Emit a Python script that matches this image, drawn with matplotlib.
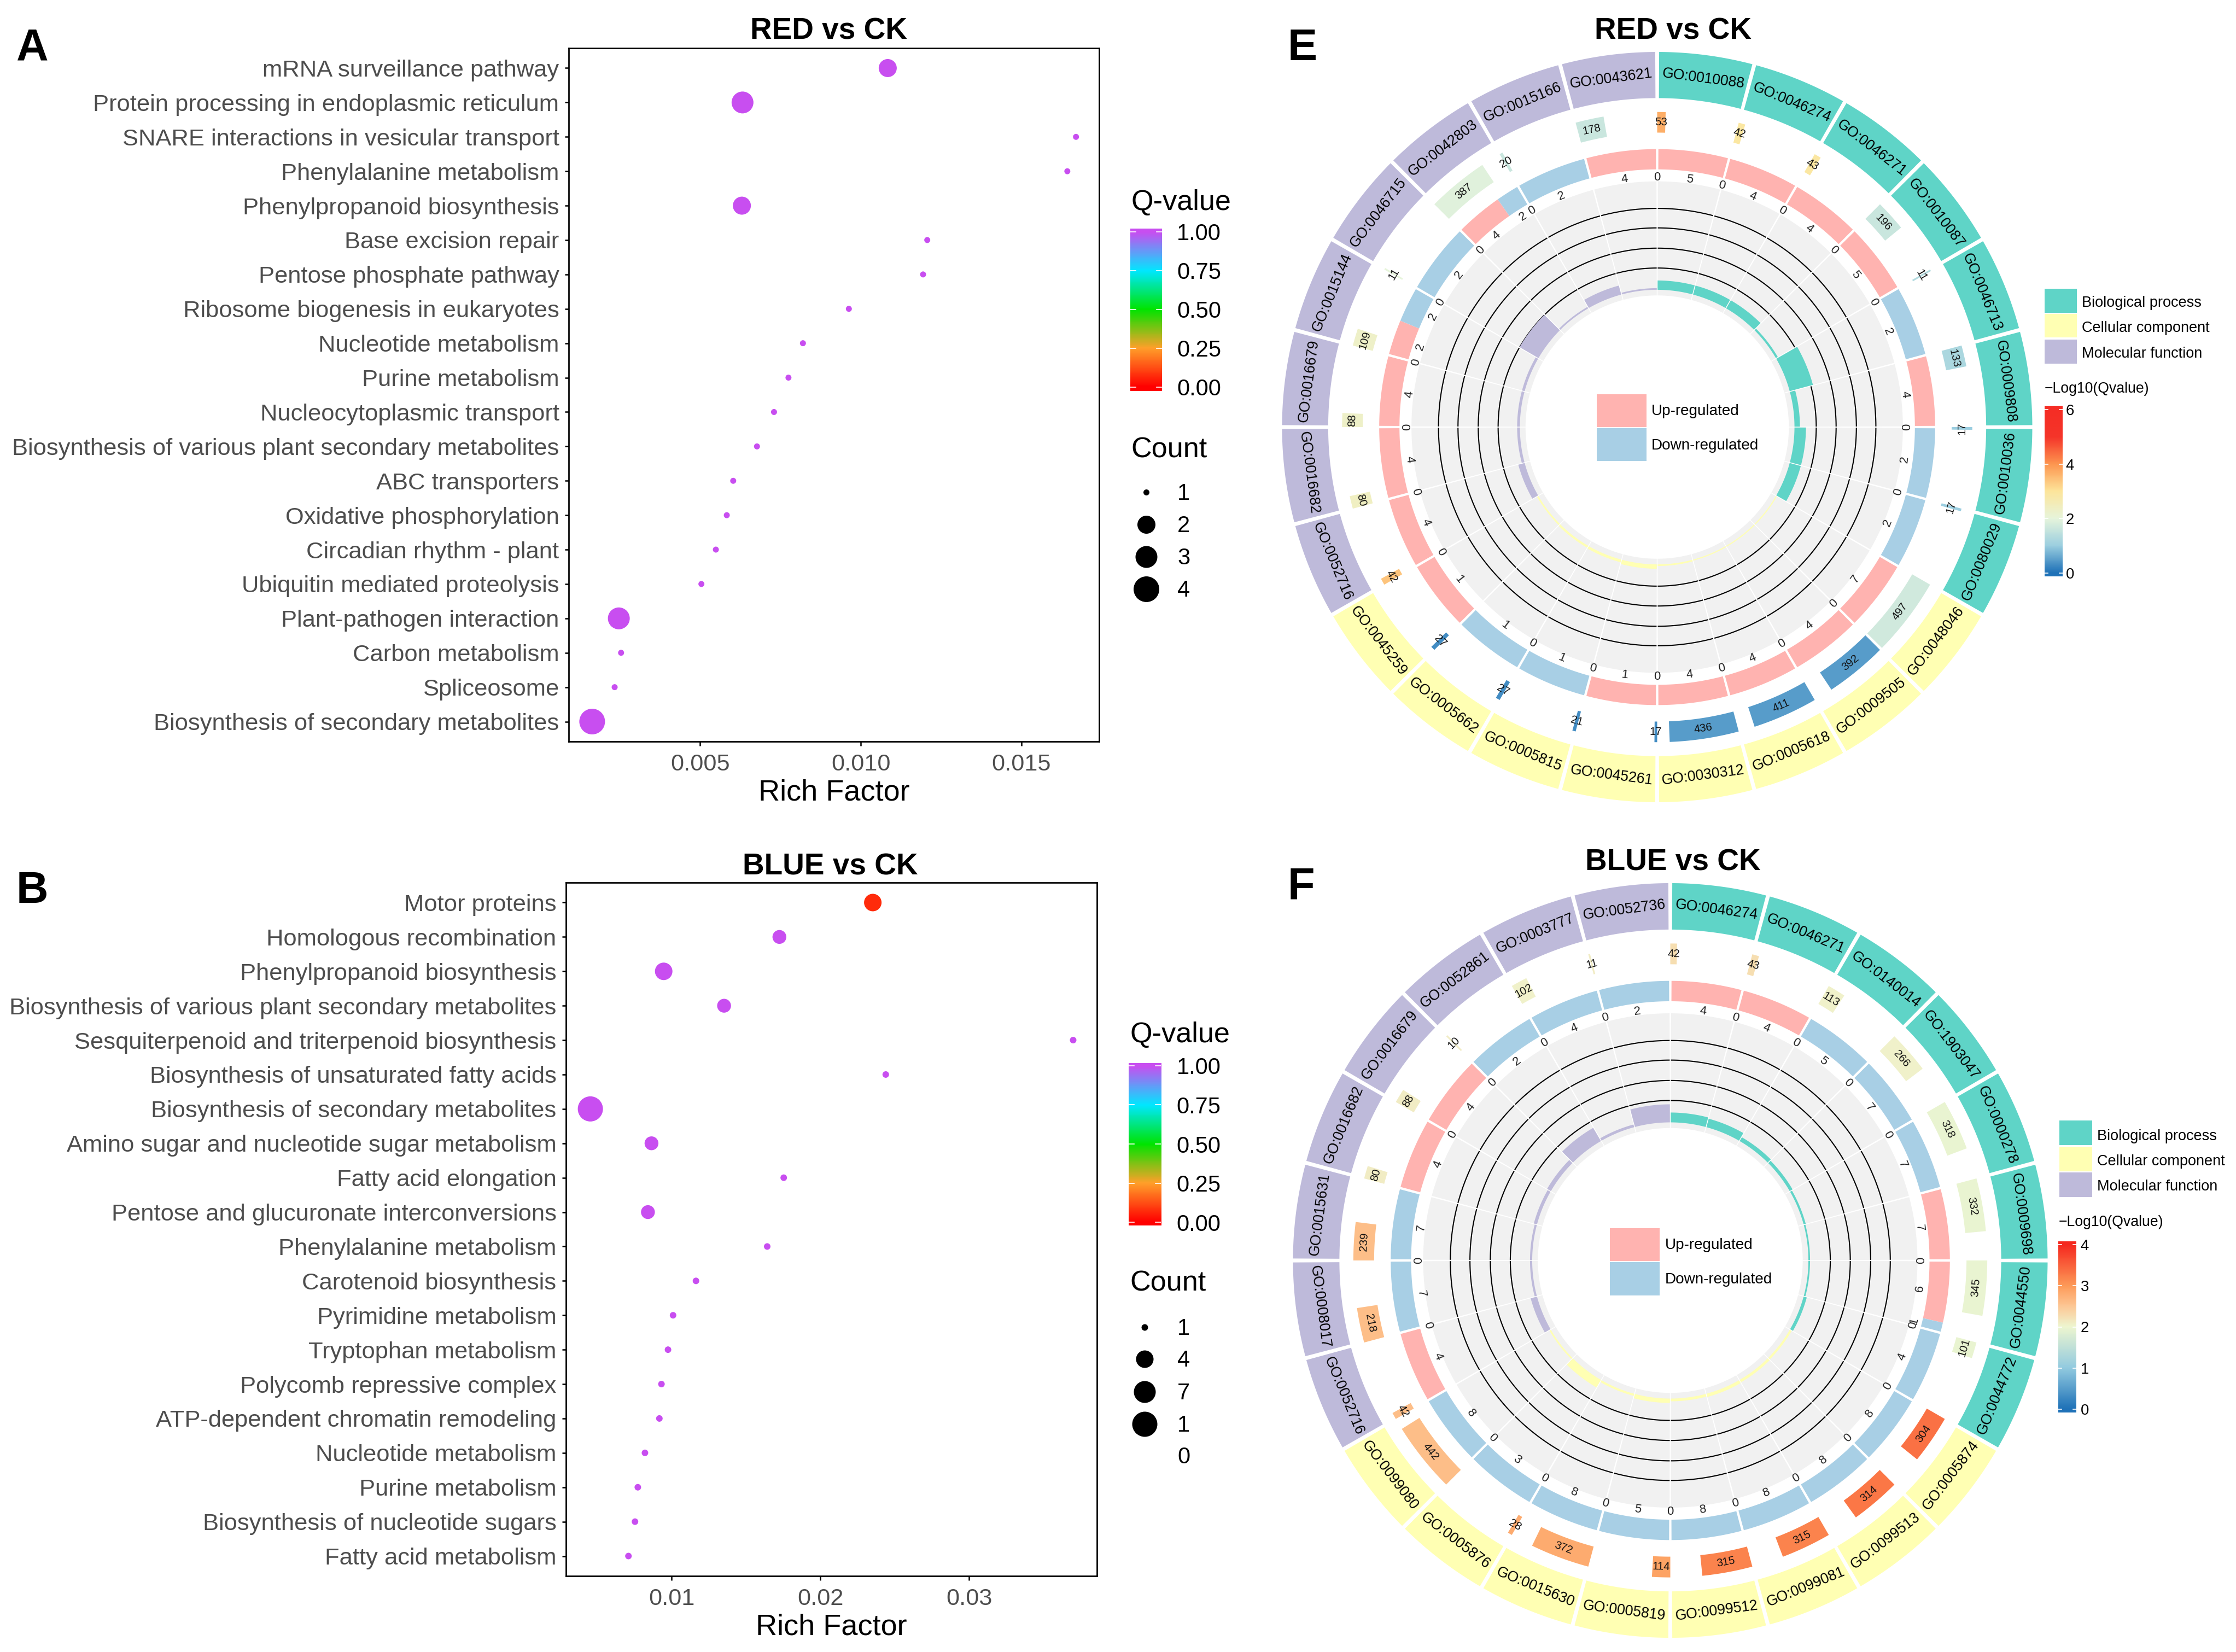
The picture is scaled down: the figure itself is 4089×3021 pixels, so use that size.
import numpy as np
import matplotlib
matplotlib.use("Agg")
import matplotlib.pyplot as plt
from matplotlib.colors import LinearSegmentedColormap, Normalize
from matplotlib.patches import Rectangle

plt.rcParams['font.family'] = ['Liberation Sans', 'DejaVu Sans']

W, H, DPI = 4089, 3021, 300

# ---------- bubble panels ----------
a_terms = ["mRNA surveillance pathway", "Protein processing in endoplasmic reticulum",
           "SNARE interactions in vesicular transport", "Phenylalanine metabolism",
           "Phenylpropanoid biosynthesis", "Base excision repair", "Pentose phosphate pathway",
           "Ribosome biogenesis in eukaryotes", "Nucleotide metabolism", "Purine metabolism",
           "Nucleocytoplasmic transport", "Biosynthesis of various plant secondary metabolites",
           "ABC transporters", "Oxidative phosphorylation", "Circadian rhythm - plant",
           "Ubiquitin mediated proteolysis", "Plant-pathogen interaction", "Carbon metabolism",
           "Spliceosome", "Biosynthesis of secondary metabolites"]
a_rich = [.01084, .00632, .0167, .01643, .0063, .01207, .01194, .00963, .0082, .00775,
          .0073, .00677, .00603, .00583, .00549, .00504, .00247, .00254, .00234, .00164]
a_count = [2, 3, 1, 1, 2, 1, 1, 1, 1, 1, 1, 1, 1, 1, 1, 1, 3, 1, 1, 4]
a_q = [1.0] * 20
a_levels = [1, 2, 3, 4]
a_level_diam = [11, 33, 40, 47]

b_terms = ["Motor proteins", "Homologous recombination", "Phenylpropanoid biosynthesis",
           "Biosynthesis of various plant secondary metabolites",
           "Sesquiterpenoid and triterpenoid biosynthesis", "Biosynthesis of unsaturated fatty acids",
           "Biosynthesis of secondary metabolites", "Amino sugar and nucleotide sugar metabolism",
           "Fatty acid elongation", "Pentose and glucuronate interconversions",
           "Phenylalanine metabolism", "Carotenoid biosynthesis", "Pyrimidine metabolism",
           "Tryptophan metabolism", "Polycomb repressive complex", "ATP-dependent chromatin remodeling",
           "Nucleotide metabolism", "Purine metabolism", "Biosynthesis of nucleotide sugars",
           "Fatty acid metabolism"]
b_rich = [.02353, .01725, .00947, .01353, .037, .0244, .00454, .00865, .01754, .00841,
          .01643, .01164, .0101, .00976, .00932, .00918, .00821, .00773, .00754, .0071]
b_count = [4, 3, 4, 3, 1, 1, 10, 3, 1, 3, 1, 1, 1, 1, 1, 1, 1, 1, 1, 1]
b_q = [0.07] + [1.0] * 19
b_levels = [1, 4, 7, 10]
b_level_diam = [12, 32, 40, 46]

q_ticks = [0.0, 0.25, 0.5, 0.75, 1.0]

# ---------- circular panels ----------
e_go = ["GO:0010088", "GO:0046274", "GO:0046271", "GO:0010087", "GO:0046713", "GO:0009808",
        "GO:0010036", "GO:0080029", "GO:0048046", "GO:0009505", "GO:0005618", "GO:0030312",
        "GO:0045261", "GO:0005815", "GO:0005662", "GO:0045259", "GO:0052716", "GO:0016682",
        "GO:0016679", "GO:0015144", "GO:0046715", "GO:0042803", "GO:0015166", "GO:0043621"]
e_genes = [53, 42, 43, 196, 11, 133, 17, 17, 497, 392, 411, 436, 17, 21, 27, 27, 42, 80, 88, 109, 11, 387, 20, 178]
e_logq = [3.7, 2.9, 2.9, 1.6, 1.3, 1.2, 1.0, 1.0, 1.7, .45, .45, .45, .3, .3, .3, .3, 3.4, 2.4, 2.3, 2.3, 2.0, 1.9, 1.6, 1.6]
e_up = [5, 4, 4, 5, 0, 4, 0, 0, 7, 4, 4, 4, 1, 0, 0, 1, 4, 4, 4, 2, 0, 4, 0, 4]
e_down = [0, 0, 0, 0, 2, 0, 2, 2, 0, 0, 0, 0, 0, 1, 1, 0, 0, 0, 0, 2, 2, 2, 2, 0]
e_rich = [17, 17, 17, 4, 44, 10, 21, 21, 2, 2, 2, 3, 8, 5, 4, 3, 12, 5, 5, 5, 40, 3, 17, 3]
e_hidden_zero = [5, 8, 15, 23]

f_go = ["GO:0046274", "GO:0046271", "GO:0140014", "GO:1903047", "GO:0000278", "GO:0009698",
        "GO:0044550", "GO:0044772", "GO:0005874", "GO:0099513", "GO:0099081", "GO:0099512",
        "GO:0005819", "GO:0015630", "GO:0005876", "GO:0099080", "GO:0052716", "GO:0008017",
        "GO:0015631", "GO:0016682", "GO:0016679", "GO:0052861", "GO:0003777", "GO:0052736"]
f_genes = [42, 43, 113, 266, 318, 332, 345, 101, 304, 314, 315, 315, 114, 372, 28, 442, 42, 218, 239, 80, 88, 10, 102, 11]
f_logq = [2.25, 2.25, 2.05, 2.05, 1.95, 1.95, 1.95, 1.95, 3.35, 3.3, 3.2, 3.2, 2.9, 2.8, 2.8, 2.6, 2.6, 2.6, 2.6, 2.1, 2.1, 2.1, 2.05, 2.1]
f_up = [4, 4, 0, 0, 0, 7, 6, 0, 0, 0, 0, 0, 0, 0, 0, 0, 4, 0, 0, 4, 4, 0, 0, 0]
f_down = [0, 0, 5, 7, 7, 0, 1, 4, 8, 8, 8, 8, 5, 8, 3, 8, 0, 7, 7, 0, 0, 2, 4, 2]
f_rich = [18, 16, 8, 6, 4, 3, 3, 6, 4, 5, 6, 5, 8, 4, 16, 3, 12, 4, 4, 6, 8, 28, 5, 33]
f_hidden_zero = [0, 5, 16, 19]

category_names = ["Biological process", "Cellular component", "Molecular function"]
C_CAT = ["#5fd4c7", "#ffffb3", "#bebada"]
C_UP, C_DOWN, C_GRAY = "#ffb3b0", "#a8cfe5", "#f1f1f1"

q_cmap = LinearSegmentedColormap.from_list("q", [(0, "#ff0000"), (.25, "#ffa02a"), (.5, "#00e400"),
                                                 (.75, "#00e8ff"), (1, "#c84ef0")])
e_stops = [(0, "#1f72b8"), (1, "#9ccfe0"), (2, "#e7f5dc"), (3, "#fde59b"), (4, "#fd9650"), (5, "#f5352a"), (6, "#f52d25")]
f_stops = [(0, "#1f72b8"), (1, "#93cbe0"), (2, "#eef6d0"), (2.5, "#fdc795"), (3, "#fd9a58"), (4, "#f5281f")]


def stops_cmap(stops):
    top = stops[-1][0]
    return LinearSegmentedColormap.from_list("s", [(v / top, c) for v, c in stops]), top


fig = plt.figure(figsize=(W / DPI, H / DPI), dpi=DPI, facecolor="white")


def px_axes(x0, y0, x1, y1, **kw):
    return fig.add_axes([x0 / W, 1 - y1 / H, (x1 - x0) / W, (y1 - y0) / H], **kw)


def size_of(d_px):
    return (np.asarray(d_px, float) * 72 / DPI) ** 2


def bubble(box, terms, rich, count, q, levels, diam, xlim, xticks, xfmt):
    ax = px_axes(*box)
    y = np.arange(len(terms))
    ax.scatter(rich, y, s=size_of(np.interp(count, levels, diam)), c=q, cmap=q_cmap, vmin=0, vmax=1,
               linewidths=0, zorder=3, clip_on=False)
    ax.set_xlim(*xlim)
    ax.set_ylim(len(terms) - 1 + .58, -.58)
    ax.set_yticks(y, terms)
    ax.set_xticks(xticks, [xfmt % t for t in xticks])
    ax.tick_params(axis="y", length=1.8, width=.6, pad=2.4, labelsize=10.45, labelcolor="#4d4d4d")
    ax.tick_params(axis="x", length=1.8, width=.6, pad=3.5, labelsize=10.4, labelcolor="#4d4d4d")
    ax.set_xlabel("Rich Factor", fontsize=13, labelpad=1.5)
    for s in ax.spines.values():
        s.set_linewidth(.65)
    return ax


bubble((1040, 88, 2010, 1356), a_terms, a_rich, a_count, a_q, a_levels, a_level_diam,
       (.00091, .01742), [.005, .010, .015], "%.3f")
bubble((1035, 1614, 2006, 2882), b_terms, b_rich, b_count, b_q, b_levels, b_level_diam,
       (.0029, .0386), [.01, .02, .03], "%.2f")


def vbar(box, cmap, norm, lo, hi, ticks, fmt, fs, pad, tick_frac=.17):
    ax = px_axes(*box)
    g = np.linspace(lo, hi, 256)[:, None]
    ax.imshow(g, origin="lower", extent=(0, 1, lo, hi), aspect="auto", cmap=cmap, norm=norm, interpolation="bilinear")
    ax.set_xticks([])
    ax.yaxis.tick_right()
    ax.set_yticks(ticks, [fmt % t for t in ticks])
    ax.tick_params(axis="y", length=0, labelsize=fs, pad=pad)
    for t in ticks:
        ax.plot([0, tick_frac], [t, t], color="white", lw=.4)
        ax.plot([1 - tick_frac, 1], [t, t], color="white", lw=.4)
    ax.set_xlim(0, 1)
    ax.set_ylim(lo, hi)
    for s in ax.spines.values():
        s.set_visible(False)


qn = Normalize(0, 1)
vbar((2067, 418, 2125, 715), q_cmap, qn, -.025, 1.02, q_ticks, "%.2f", 10, 6.5)
vbar((2064, 1944, 2123, 2241), q_cmap, qn, -.02, 1.017, q_ticks, "%.2f", 10, 6.9)


# ---------- circos ----------
def polar(th, r):
    t = np.radians(th)
    return r * np.sin(t), r * np.cos(t)


def ring(ax, th0, th1, r0, r1, color, zorder=2):
    th = np.linspace(th0, th1, max(int(abs(th1 - th0) * 2) + 2, 3))
    xo, yo = polar(th, r1)
    xi, yi = polar(th[::-1], r0)
    ax.fill(np.r_[xo, xi], np.r_[yo, yi], color=color, lw=0, zorder=zorder)


def rot(th):
    th = th % 360
    return -th if (th < 90 or th >= 270) else 180 - th


def circos(cx, cy, R, go, genes, logq, up, down, rich, hidden, stops):
    ax = px_axes(cx - R * 1.02, cy - R * 1.02, cx + R * 1.02, cy + R * 1.02)
    ax.set_xlim(-1.02, 1.02)
    ax.set_ylim(-1.02, 1.02)
    ax.axis("off")
    cmap, top = stops_cmap(stops)
    norm = Normalize(0, top)
    step = 15.0
    scale = 14.5 / 497
    for i in range(24):
        s, e = i * step, (i + 1) * step
        mid = (s + e) / 2
        cat = C_CAT[i // 8]
        # GO ring
        ring(ax, s + .3, e - .3, .877, 1.0, cat)
        x, y = polar(mid, .937)
        ax.text(x, y, go[i], ha="center", va="center", rotation=rot(mid), rotation_mode="anchor",
                fontsize=6.4, color="black", zorder=5)
        # gene count bars
        w = genes[i] * scale
        ring(ax, s, s + w, .785, .84, cmap(norm(logq[i])))
        x, y = polar(s + w / 2, .8125)
        ax.text(x, y, str(genes[i]), ha="center", va="center", rotation=rot(s + w / 2), rotation_mode="anchor",
                fontsize=4.9, color="#111111", zorder=5)
        # up / down ring
        tot = up[i] + down[i]
        split = s + (e - s) * up[i] / tot
        if up[i]:
            ring(ax, s + .25, split - (0 if down[i] else .25), .687, .741, C_UP)
            x, y = polar((s + split) / 2, .666)
            ax.text(x, y, str(up[i]), ha="center", va="center", rotation=rot((s + split) / 2),
                    rotation_mode="anchor", fontsize=5.3, color="#222222", zorder=5)
        if down[i]:
            ring(ax, split + (0 if up[i] else .25), e - .25, .687, .741, C_DOWN)
            x, y = polar((split + e) / 2, .666)
            ax.text(x, y, str(down[i]), ha="center", va="center", rotation=rot((split + e) / 2),
                    rotation_mode="anchor", fontsize=5.3, color="#222222", zorder=5)
        if i not in hidden:
            x, y = polar(s, .666)
            ax.text(x, y, "0", ha="center", va="center", rotation=rot(s), rotation_mode="anchor",
                    fontsize=5.3, color="#222222", zorder=5)
        # gray track, lines, inner bars
        ring(ax, s + .17, e - .17, .351, .655, C_GRAY, zorder=1)
        for r in (.583, .531, .477, .424):
            th = np.linspace(s + .17, e - .17, 40)
            ax.plot(*polar(th, r), color="black", lw=.5, zorder=2.5, solid_capstyle="butt")
        ring(ax, s + .17, e - .17, .366, .366 + rich[i] / R, cat, zorder=3)


circos(3030.5, 781, 686, e_go, e_genes, e_logq, e_up, e_down, e_rich, e_hidden_zero, e_stops)
circos(3054.5, 2305, 690, f_go, f_genes, f_logq, f_up, f_down, f_rich, f_hidden_zero, f_stops)

cm_e, top_e = stops_cmap(e_stops)
cm_f, top_f = stops_cmap(f_stops)
vbar((3739, 742, 3772, 1054), cm_e, Normalize(0, top_e), -.12, 6.14, [0, 2, 4, 6], "%d", 6.6, 1.3)
vbar((3764, 2270, 3797, 2583), cm_f, Normalize(0, top_f), -.08, 4.08, [0, 1, 2, 3, 4], "%d", 6.6, 1.8)

# ---------- overlay in pixel coordinates ----------
ov = fig.add_axes([0, 0, 1, 1], facecolor="none")
ov.set_xlim(0, W)
ov.set_ylim(H, 0)
ov.axis("off")


def txt(x, y, s, fs, ha="left", weight="normal", color="black"):
    ov.text(x, y + 3, s, fontsize=fs, ha=ha, va="center", fontweight=weight, color=color)


def box(x0, y0, x1, y1, c):
    ov.add_patch(Rectangle((x0, y0), x1 - x0, y1 - y0, facecolor=c, edgecolor="none"))


for x, y, t in [(1515, 54, "RED vs CK"), (1518, 1582, "BLUE vs CK"), (3059, 54, "RED vs CK"), (3059, 1574, "BLUE vs CK")]:
    txt(x, y, t, 13.2, ha="center", weight="bold")
for x, y, t in [(30, 86, "A"), (30, 1627, "B"), (2355, 86, "E"), (2355, 1620, "F")]:
    txt(x, y, t, 19.5, weight="bold")

# bubble legends
txt(2068, 367, "Q-value", 12.5)
txt(2068, 820, "Count", 12.5)
for y, lab, d in zip([900, 959, 1018, 1077], a_levels, a_level_diam):
    ov.scatter([2096], [y], s=size_of(d), color="black", linewidths=0)
    txt(2153, y, str(lab), 10)
txt(2066, 1890, "Q-value", 12.5)
txt(2066, 2344, "Count", 12.5)
for y, lab, d in zip([2427, 2485, 2545, 2604], b_levels, b_level_diam):
    ov.scatter([2093], [y], s=size_of(d), color="black", linewidths=0)
    txt(2153, y, str(lab)[0], 10)
txt(2153, 2662, str(b_levels[-1])[1], 10)

# circos legends
box(2920, 721, 3011, 781, C_UP); box(2920, 783, 3011, 843, C_DOWN)
txt(3020, 749, "Up-regulated", 6.7); txt(3020, 812, "Down-regulated", 6.7)
box(2944, 2246, 3035, 2306, C_UP); box(2944, 2308, 3035, 2369, C_DOWN)
txt(3045, 2274, "Up-regulated", 6.7); txt(3045, 2337, "Down-regulated", 6.7)

for (y0, y1, ty), c, n in zip([(528, 572, 551), (574, 617, 597), (621, 665, 644)], C_CAT, category_names):
    box(3739, y0, 3798, y1, c)
    txt(3807, ty, n, 6.5)
txt(3739, 708, "\u2212Log10(Qvalue)", 6.4)
for (y0, y1, ty), c, n in zip([(2049, 2094, 2075), (2097, 2142, 2121), (2144, 2189, 2167)], C_CAT, category_names):
    box(3766, y0, 3826, y1, c)
    txt(3835, ty, n, 6.5)
txt(3765, 2232, "\u2212Log10(Qvalue)", 6.4)

fig.savefig("out.png", dpi=DPI)
